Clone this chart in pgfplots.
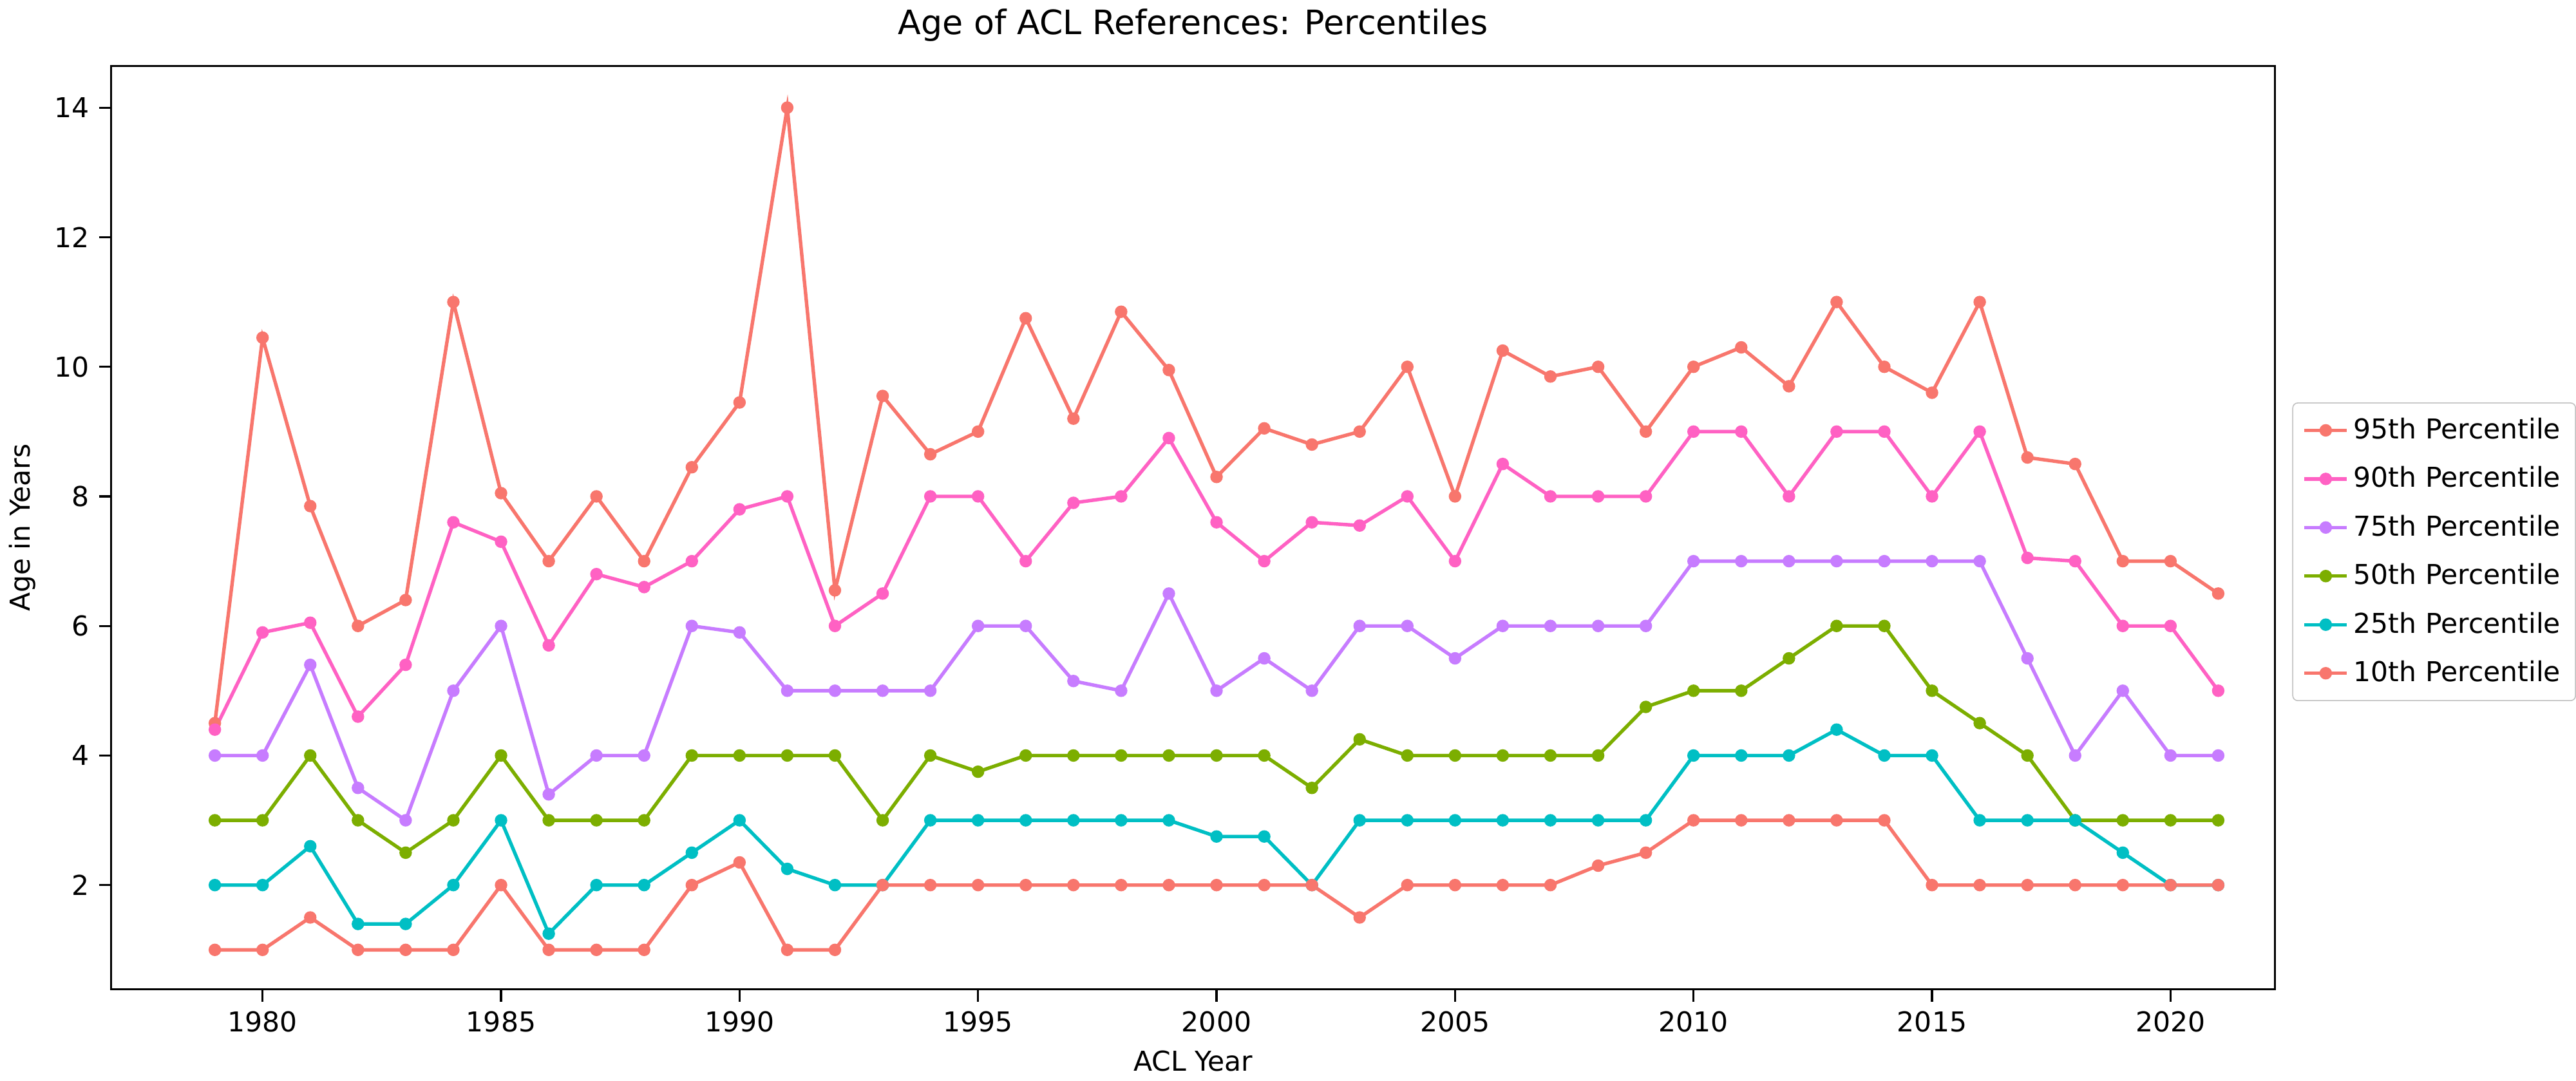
\documentclass[border=0pt]{standalone}
\usepackage{pgfplots}
\pgfplotsset{compat=1.18}
\usepackage{fontspec}
\setmainfont{DejaVu Sans}
\definecolor{c95}{HTML}{F8766D}
\definecolor{c90}{HTML}{FF61C3}
\definecolor{c75}{HTML}{C77CFF}
\definecolor{c50}{HTML}{7CAE00}
\definecolor{c25}{HTML}{00BFC4}
\pgfplotstableread{
yr p95 p90 p75 p50 p25 p10
1979 4.5 4.4 4 3 2 1
1980 10.45 5.9 4 3 2 1
1981 7.85 6.05 5.4 4 2.6 1.5
1982 6 4.6 3.5 3 1.4 1
1983 6.4 5.4 3 2.5 1.4 1
1984 11 7.6 5 3 2 1
1985 8.05 7.3 6 4 3 2
1986 7 5.7 3.4 3 1.25 1
1987 8 6.8 4 3 2 1
1988 7 6.6 4 3 2 1
1989 8.45 7 6 4 2.5 2
1990 9.45 7.8 5.9 4 3 2.35
1991 14 8 5 4 2.25 1
1992 6.55 6 5 4 2 1
1993 9.55 6.5 5 3 2 2
1994 8.65 8 5 4 3 2
1995 9 8 6 3.75 3 2
1996 10.75 7 6 4 3 2
1997 9.2 7.9 5.15 4 3 2
1998 10.85 8 5 4 3 2
1999 9.95 8.9 6.5 4 3 2
2000 8.3 7.6 5 4 2.75 2
2001 9.05 7 5.5 4 2.75 2
2002 8.8 7.6 5 3.5 2 2
2003 9 7.55 6 4.25 3 1.5
2004 10 8 6 4 3 2
2005 8 7 5.5 4 3 2
2006 10.25 8.5 6 4 3 2
2007 9.85 8 6 4 3 2
2008 10 8 6 4 3 2.3
2009 9 8 6 4.75 3 2.5
2010 10 9 7 5 4 3
2011 10.3 9 7 5 4 3
2012 9.7 8 7 5.5 4 3
2013 11 9 7 6 4.4 3
2014 10 9 7 6 4 3
2015 9.6 8 7 5 4 2
2016 11 9 7 4.5 3 2
2017 8.6 7.05 5.5 4 3 2
2018 8.5 7 4 3 3 2
2019 7 6 5 3 2.5 2
2020 7 6 4 3 2 2
2021 6.5 5 4 3 2 2
}\data
\begin{document}
\fontsize{11}{13}\selectfont
\begin{tikzpicture}
\begin{axis}[
  scale only axis, width=12.02in, height=5.13in,
  xmin=1976.83, xmax=2022.19, ymin=0.39, ymax=14.64,
  xtick={1980,1985,...,2020}, ytick={2,4,...,14},
  axis line style={black, line width=0.8pt},
  /pgf/number format/assume math mode=true,
  x tick label style={/pgf/number format/1000 sep={}},
  tick label style={font=\fontsize{11}{13}\selectfont},
  label style={font=\fontsize{11}{13}\selectfont},
  major tick style={black, line width=0.8pt},
  major tick length=5pt,
  xlabel={ACL Year}, ylabel={Age in Years},
  title={Age of ACL References: Percentiles},
  title style={font=\fontsize{13.5}{16}\selectfont},
  tick align=outside, tick pos=left,
  legend style={at={(1.008,0.474)}, anchor=west, font=\fontsize{11}{13}\selectfont, draw=black!25, rounded corners=2pt, row sep=5.5pt, inner sep=4pt},
  legend cell align=left,
  every axis plot/.append style={line width=1.4pt, mark=*, mark size=1.8pt},
]
\addplot[c95] table[x=yr,y=p95]{\data}; \addlegendentry{95th Percentile}
\addplot[c90] table[x=yr,y=p90]{\data}; \addlegendentry{90th Percentile}
\addplot[c75] table[x=yr,y=p75]{\data}; \addlegendentry{75th Percentile}
\addplot[c50] table[x=yr,y=p50]{\data}; \addlegendentry{50th Percentile}
\addplot[c25] table[x=yr,y=p25]{\data}; \addlegendentry{25th Percentile}
\addplot[c95] table[x=yr,y=p10]{\data}; \addlegendentry{10th Percentile}
\end{axis}
\end{tikzpicture}
\end{document}
